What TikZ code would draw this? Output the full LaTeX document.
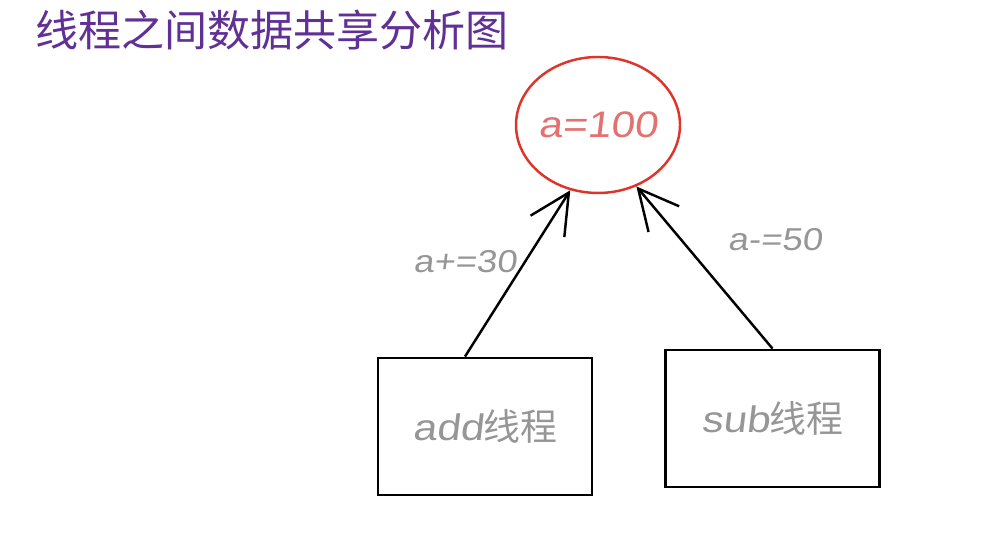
\documentclass[tikz,border=0pt]{standalone}
\usepackage{fontspec}
\setmainfont{Liberation Sans}
\newfontfamily\cjk{Noto Sans CJK SC}
\newfontfamily\hand{Liberation Sans}[FakeSlant=0.12,FakeStretch=1.15]
\usetikzlibrary{shapes.geometric,arrows.meta}
\definecolor{titlepurple}{RGB}{96,48,150}
\definecolor{circred}{RGB}{222,52,42}
\definecolor{valpink}{RGB}{228,112,112}
\definecolor{pencil}{RGB}{150,150,150}
\tikzset{
  threadbox/.style={draw,line width=1.6pt,minimum width=4.28cm,minimum height=2.74cm,inner sep=0pt},
  opnote/.style={text=pencil,font=\hand\fontsize{18}{21}\selectfont},
  access/.style={line width=1.4pt,-{Straight Barb[length=8mm,width=8mm,line width=1.4pt]}}
}
\begin{document}
\begin{tikzpicture}
     \useasboundingbox (0,0) rectangle (20.12,10.78);

     \node[anchor=west,text=titlepurple,font=\cjk\fontsize{24.5}{28}\selectfont,inner sep=0pt] (title) at (0.7,10.18) {线程之间数据共享分析图};

     \node[ellipse,draw=circred,line width=1.4pt,minimum width=3.28cm,minimum height=2.72cm,inner xsep=-8mm,inner ysep=-2mm,
           text=valpink,font=\hand\fontsize{21}{25}\selectfont] (shared) at (11.96,8.28) {a=100};

     \node[threadbox,text=pencil,font=\hand\fontsize{21}{24}\selectfont] (addbox) at (9.70,2.25) {add{\cjk 线程}};
     \node[threadbox,text=pencil,font=\hand\fontsize{21}{24}\selectfont] (subbox) at (15.45,2.41) {sub{\cjk 线程}};

     \draw[access] ([xshift=-0.4cm]addbox.north) -- (shared.247);
     \draw[access] (subbox.north) -- (shared.302);

     \node[opnote] (addop) at (9.30,5.54) {a+=30};
     \node[opnote] (subop) at (15.5,5.98) {a-=50};
\end{tikzpicture}
\end{document}
